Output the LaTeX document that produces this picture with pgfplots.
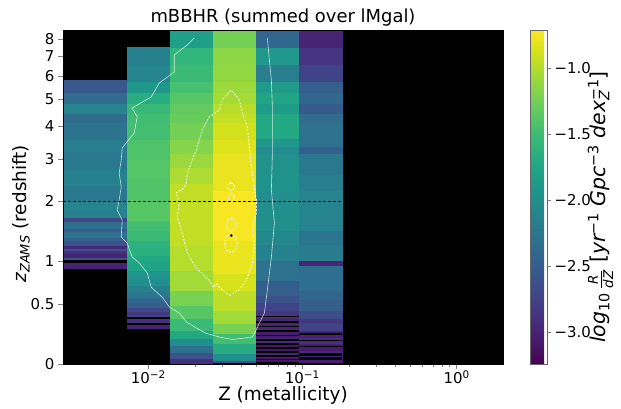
\documentclass[border=0pt]{standalone}
\usepackage{fontspec}
\setmainfont{DejaVu Sans}
\usepackage{pgfplots}
\pgfplotsset{compat=1.18}
\usepgfplotslibrary{colormaps}
\pgfplotsset{blk/.style={fill=black, draw=none}}
\begin{document}
\begin{tikzpicture}
\useasboundingbox (-63bp,-45bp) rectangle (558bp,364bp);
\begin{axis}[
  at={(0,0)}, anchor=south west,
  scale only axis, width=440bp, height=334bp,
  xmode=log, xmin=0.0028, xmax=2.0,
  ymin=0, ymax=8.54,
  y coord trafo/.code={\pgfmathparse{ln(1+#1)}},
  y coord inv trafo/.code={\pgfmathparse{exp(#1)-1}},
  enlargelimits=false,
  axis background/.style={fill=black},
  axis on top,
  xtick={0.01,0.1,1},
  xticklabels={10\textsuperscript{−2},10\textsuperscript{−1},10\textsuperscript{0}},
  ytick={0,0.5,1,2,3,4,5,6,7,8},
  yticklabels={0,0.5,1,2,3,4,5,6,7,8},
  tick pos=left, tick align=outside,
  major tick length=5bp, minor tick length=3bp,
  tick label style={font=\fontsize{15}{18}\selectfont},
  xticklabel style={yshift=2bp},
  label style={font=\fontsize{18.5}{22}\selectfont},
  xlabel style={yshift=4bp},
  ylabel style={at={(axis description cs:-0.0955,0.45)}, anchor=center},
  title={mBBHR (summed over lMgal)},
  every axis title/.style={at={(axis description cs:0.5,1)}, anchor=south, font=\fontsize{18}{22}\selectfont},
  xlabel={Z (metallicity)},
  ylabel={{\itshape z}\textsubscript{\itshape ZAMS} (redshift)},
  colormap name=viridis,
  point meta min=-3.24, point meta max=-0.71,
  colorbar,
  colorbar style={
    at={(1.0614,1)}, anchor=north west,
    scale only axis, width=17bp, height=334bp,
    ytick={-3,-2.5,-2,-1.5,-1},
    yticklabels={−3.0,−2.5,−2.0,−1.5,−1.0},
    yticklabel pos=right, ytick pos=right,
    tick align=outside, major tick length=4bp,
    yticklabel style={font=\fontsize{15}{18}\selectfont},
    axis line style={black!60},
    ylabel={{\itshape log}\textsubscript{10}\,$\frac{\mbox{\fontsize{13.5}{13.5}\selectfont\itshape R}}{\mbox{\fontsize{13.5}{13.5}\selectfont\itshape dZ}}$ [{\itshape yr}\textsuperscript{−1} {\itshape Gpc}\textsuperscript{−3} {\itshape dex}\rlap{\textsubscript{\itshape Z}}\textsuperscript{−1}]},
    ylabel style={font=\fontsize{20.5}{24}\selectfont, at={(axis description cs:4.15,0.47)}, anchor=center, rotate=0},
  },
]
% column 1
\addplot[surf, shader=flat corner, mesh/cols=2, point meta=explicit] table[meta=c, row sep=\\] {
x y c\\
0.0028 0.91 -3.00\\ 0.00731 0.91 -3.00\\
0.0028 0.98 -3.00\\ 0.00731 0.98 -3.00\\
0.0028 1.02 -2.60\\ 0.00731 1.02 -2.60\\
0.0028 1.06 -3.00\\ 0.00731 1.06 -3.00\\
0.0028 1.12 -2.90\\ 0.00731 1.12 -2.90\\
0.0028 1.16 -2.60\\ 0.00731 1.16 -2.60\\
0.0028 1.19 -2.95\\ 0.00731 1.19 -2.95\\
0.0028 1.23 -2.60\\ 0.00731 1.23 -2.60\\
0.0028 1.30 -2.45\\ 0.00731 1.30 -2.45\\
0.0028 1.36 -2.30\\ 0.00731 1.36 -2.30\\
0.0028 1.45 -2.50\\ 0.00731 1.45 -2.50\\
0.0028 1.50 -2.35\\ 0.00731 1.50 -2.35\\
0.0028 1.62 -2.70\\ 0.00731 1.62 -2.70\\
0.0028 1.70 -2.15\\ 0.00731 1.70 -2.15\\
0.0028 1.85 -2.10\\ 0.00731 1.85 -2.10\\
0.0028 2.03 -2.23\\ 0.00731 2.03 -2.23\\
0.0028 2.35 -2.13\\ 0.00731 2.35 -2.13\\
0.0028 2.73 -2.23\\ 0.00731 2.73 -2.23\\
0.0028 3.16 -2.18\\ 0.00731 3.16 -2.18\\
0.0028 3.57 -2.28\\ 0.00731 3.57 -2.28\\
0.0028 4.13 -2.35\\ 0.00731 4.13 -2.35\\
0.0028 4.45 -2.10\\ 0.00731 4.45 -2.10\\
0.0028 4.83 -2.35\\ 0.00731 4.83 -2.35\\
0.0028 5.28 -2.56\\ 0.00731 5.28 -2.56\\
0.0028 5.80 -2.56\\ 0.00731 5.80 -2.56\\
};
% column 2
\addplot[surf, shader=flat corner, mesh/cols=2, point meta=explicit] table[meta=c, row sep=\\] {
x y c\\
0.00731 0.275 -3.00\\ 0.0139 0.275 -3.00\\
0.00731 0.30 -3.00\\ 0.0139 0.30 -3.00\\
0.00731 0.32 -2.90\\ 0.0139 0.32 -2.90\\
0.00731 0.355 -2.90\\ 0.0139 0.355 -2.90\\
0.00731 0.37 -2.75\\ 0.0139 0.37 -2.75\\
0.00731 0.40 -2.85\\ 0.0139 0.40 -2.85\\
0.00731 0.43 -2.70\\ 0.0139 0.43 -2.70\\
0.00731 0.47 -2.48\\ 0.0139 0.47 -2.48\\
0.00731 0.52 -2.40\\ 0.0139 0.52 -2.40\\
0.00731 0.57 -2.23\\ 0.0139 0.57 -2.23\\
0.00731 0.64 -2.15\\ 0.0139 0.64 -2.15\\
0.00731 0.70 -1.98\\ 0.0139 0.70 -1.98\\
0.00731 0.80 -1.92\\ 0.0139 0.80 -1.92\\
0.00731 0.89 -1.77\\ 0.0139 0.89 -1.77\\
0.00731 1.00 -1.72\\ 0.0139 1.00 -1.72\\
0.00731 1.09 -1.65\\ 0.0139 1.09 -1.65\\
0.00731 1.20 -1.62\\ 0.0139 1.20 -1.62\\
0.00731 1.31 -1.52\\ 0.0139 1.31 -1.52\\
0.00731 1.47 -1.48\\ 0.0139 1.47 -1.48\\
0.00731 1.64 -1.37\\ 0.0139 1.64 -1.37\\
0.00731 2.03 -1.40\\ 0.0139 2.03 -1.40\\
0.00731 2.50 -1.38\\ 0.0139 2.50 -1.38\\
0.00731 3.00 -1.41\\ 0.0139 3.00 -1.41\\
0.00731 3.57 -1.47\\ 0.0139 3.57 -1.47\\
0.00731 4.13 -1.49\\ 0.0139 4.13 -1.49\\
0.00731 4.45 -1.54\\ 0.0139 4.45 -1.54\\
0.00731 4.83 -1.67\\ 0.0139 4.83 -1.67\\
0.00731 5.28 -1.90\\ 0.0139 5.28 -1.90\\
0.00731 5.76 -2.10\\ 0.0139 5.76 -2.10\\
0.00731 6.58 -2.15\\ 0.0139 6.58 -2.15\\
0.00731 7.50 -2.15\\ 0.0139 7.50 -2.15\\
};
% column 3
\addplot[surf, shader=flat corner, mesh/cols=2, point meta=explicit] table[meta=c, row sep=\\] {
x y c\\
0.0139 0.00 -2.90\\ 0.02643 0.00 -2.90\\
0.0139 0.04 -2.61\\ 0.02643 0.04 -2.61\\
0.0139 0.085 -2.30\\ 0.02643 0.085 -2.30\\
0.0139 0.137 -1.98\\ 0.02643 0.137 -1.98\\
0.0139 0.19 -1.72\\ 0.02643 0.19 -1.72\\
0.0139 0.26 -1.52\\ 0.02643 0.26 -1.52\\
0.0139 0.364 -1.37\\ 0.02643 0.364 -1.37\\
0.0139 0.49 -1.22\\ 0.02643 0.49 -1.22\\
0.0139 0.65 -1.06\\ 0.02643 0.65 -1.06\\
0.0139 0.89 -0.99\\ 0.02643 0.89 -0.99\\
0.0139 1.23 -0.94\\ 0.02643 1.23 -0.94\\
0.0139 2.39 -1.02\\ 0.02643 2.39 -1.02\\
0.0139 2.78 -1.09\\ 0.02643 2.78 -1.09\\
0.0139 3.16 -1.17\\ 0.02643 3.16 -1.17\\
0.0139 3.57 -1.24\\ 0.02643 3.57 -1.24\\
0.0139 4.13 -1.29\\ 0.02643 4.13 -1.29\\
0.0139 4.45 -1.32\\ 0.02643 4.45 -1.32\\
0.0139 4.83 -1.37\\ 0.02643 4.83 -1.37\\
0.0139 5.28 -1.45\\ 0.02643 5.28 -1.45\\
0.0139 5.76 -1.52\\ 0.02643 5.76 -1.52\\
0.0139 6.58 -1.57\\ 0.02643 6.58 -1.57\\
0.0139 7.50 -1.82\\ 0.02643 7.50 -1.82\\
0.0139 8.54 -1.82\\ 0.02643 8.54 -1.82\\
};
% column 4
\addplot[surf, shader=flat corner, mesh/cols=2, point meta=explicit] table[meta=c, row sep=\\] {
x y c\\
0.02643 0.00 -2.60\\ 0.05027 0.00 -2.60\\
0.02643 0.0088 -2.60\\ 0.05027 0.0088 -2.60\\
0.02643 0.027 -1.98\\ 0.05027 0.027 -1.98\\
0.02643 0.077 -1.68\\ 0.05027 0.077 -1.68\\
0.02643 0.152 -1.47\\ 0.05027 0.152 -1.47\\
0.02643 0.23 -1.22\\ 0.05027 0.23 -1.22\\
0.02643 0.32 -1.06\\ 0.05027 0.32 -1.06\\
0.02643 0.44 -0.96\\ 0.05027 0.44 -0.96\\
0.02643 0.65 -0.86\\ 0.05027 0.65 -0.86\\
0.02643 0.85 -0.78\\ 0.05027 0.85 -0.78\\
0.02643 1.31 -0.73\\ 0.05027 1.31 -0.73\\
0.02643 2.24 -0.79\\ 0.05027 2.24 -0.79\\
0.02643 3.16 -0.83\\ 0.05027 3.16 -0.83\\
0.02643 3.57 -0.88\\ 0.05027 3.57 -0.88\\
0.02643 4.13 -0.93\\ 0.05027 4.13 -0.93\\
0.02643 4.45 -0.98\\ 0.05027 4.45 -0.98\\
0.02643 4.83 -1.05\\ 0.05027 4.83 -1.05\\
0.02643 5.28 -1.08\\ 0.05027 5.28 -1.08\\
0.02643 5.76 -1.12\\ 0.05027 5.76 -1.12\\
0.02643 6.58 -1.14\\ 0.05027 6.58 -1.14\\
0.02643 7.50 -1.24\\ 0.05027 7.50 -1.24\\
0.02643 8.54 -1.24\\ 0.05027 8.54 -1.24\\
};
% column 5
\addplot[surf, shader=flat corner, mesh/cols=2, point meta=explicit] table[meta=c, row sep=\\] {
x y c\\
0.05027 0.00 -3.10\\ 0.0956 0.00 -3.10\\
0.05027 0.05 -3.00\\ 0.0956 0.05 -3.00\\
0.05027 0.10 -3.10\\ 0.0956 0.10 -3.10\\
0.05027 0.15 -2.95\\ 0.0956 0.15 -2.95\\
0.05027 0.20 -3.05\\ 0.0956 0.20 -3.05\\
0.05027 0.25 -2.95\\ 0.0956 0.25 -2.95\\
0.05027 0.30 -2.99\\ 0.0956 0.30 -2.99\\
0.05027 0.37 -2.85\\ 0.0956 0.37 -2.85\\
0.05027 0.44 -2.73\\ 0.0956 0.44 -2.73\\
0.05027 0.52 -2.60\\ 0.0956 0.52 -2.60\\
0.05027 0.59 -2.48\\ 0.0956 0.59 -2.48\\
0.05027 0.76 -2.30\\ 0.0956 0.76 -2.30\\
0.05027 1.02 -2.13\\ 0.0956 1.02 -2.13\\
0.05027 1.25 -2.05\\ 0.0956 1.25 -2.05\\
0.05027 1.47 -1.98\\ 0.0956 1.47 -1.98\\
0.05027 1.80 -2.00\\ 0.0956 1.80 -2.00\\
0.05027 2.24 -1.95\\ 0.0956 2.24 -1.95\\
0.05027 2.60 -1.97\\ 0.0956 2.60 -1.97\\
0.05027 3.16 -2.03\\ 0.0956 3.16 -2.03\\
0.05027 3.36 -1.90\\ 0.0956 3.36 -1.90\\
0.05027 3.60 -1.72\\ 0.0956 3.60 -1.72\\
0.05027 4.45 -1.85\\ 0.0956 4.45 -1.85\\
0.05027 4.83 -1.75\\ 0.0956 4.83 -1.75\\
0.05027 5.28 -1.85\\ 0.0956 5.28 -1.85\\
0.05027 5.76 -2.18\\ 0.0956 5.76 -2.18\\
0.05027 6.58 -1.90\\ 0.0956 6.58 -1.90\\
0.05027 7.50 -2.41\\ 0.0956 7.50 -2.41\\
0.05027 8.54 -2.41\\ 0.0956 8.54 -2.41\\
};
% column 6
\addplot[surf, shader=flat corner, mesh/cols=2, point meta=explicit] table[meta=c, row sep=\\] {
x y c\\
0.0956 0.00 -3.05\\ 0.1818 0.00 -3.05\\
0.0956 0.05 -2.95\\ 0.1818 0.05 -2.95\\
0.0956 0.10 -3.05\\ 0.1818 0.10 -3.05\\
0.0956 0.15 -2.90\\ 0.1818 0.15 -2.90\\
0.0956 0.20 -3.00\\ 0.1818 0.20 -3.00\\
0.0956 0.26 -2.73\\ 0.1818 0.26 -2.73\\
0.0956 0.33 -2.85\\ 0.1818 0.33 -2.85\\
0.0956 0.36 -2.65\\ 0.1818 0.36 -2.65\\
0.0956 0.44 -2.48\\ 0.1818 0.44 -2.48\\
0.0956 0.55 -2.42\\ 0.1818 0.55 -2.42\\
0.0956 0.65 -2.33\\ 0.1818 0.65 -2.33\\
0.0956 0.95 -2.99\\ 0.1818 0.95 -2.99\\
0.0956 1.02 -2.20\\ 0.1818 1.02 -2.20\\
0.0956 1.25 -2.25\\ 0.1818 1.25 -2.25\\
0.0956 1.47 -2.10\\ 0.1818 1.47 -2.10\\
0.0956 2.24 -2.18\\ 0.1818 2.24 -2.18\\
0.0956 2.61 -2.23\\ 0.1818 2.61 -2.23\\
0.0956 3.16 -2.48\\ 0.1818 3.16 -2.48\\
0.0956 3.36 -2.30\\ 0.1818 3.36 -2.30\\
0.0956 4.13 -2.35\\ 0.1818 4.13 -2.35\\
0.0956 4.45 -2.53\\ 0.1818 4.45 -2.53\\
0.0956 4.83 -2.41\\ 0.1818 4.83 -2.41\\
0.0956 5.28 -2.48\\ 0.1818 5.28 -2.48\\
0.0956 5.76 -2.73\\ 0.1818 5.76 -2.73\\
0.0956 6.58 -2.86\\ 0.1818 6.58 -2.86\\
0.0956 7.50 -2.99\\ 0.1818 7.50 -2.99\\
0.0956 8.54 -2.99\\ 0.1818 8.54 -2.99\\
};
% empty (black) cells
\addplot[blk] coordinates {(0.0028,0.98) (0.00731,0.98) (0.00731,1.02) (0.0028,1.02)};
\addplot[blk] coordinates {(0.00731,0.30) (0.0139,0.30) (0.0139,0.32) (0.00731,0.32)};
\addplot[blk] coordinates {(0.00731,0.355) (0.0139,0.355) (0.0139,0.37) (0.00731,0.37)};
\addplot[blk] coordinates {(0.02643,0) (0.05027,0) (0.05027,0.0088) (0.02643,0.0088)};
\addplot[blk] coordinates {(0.05027,0) (0.0956,0) (0.0956,0.012) (0.05027,0.012)};
\addplot[blk] coordinates {(0.05027,0.025) (0.0956,0.025) (0.0956,0.035) (0.05027,0.035)};
\addplot[blk] coordinates {(0.05027,0.05) (0.0956,0.05) (0.0956,0.065) (0.05027,0.065)};
\addplot[blk] coordinates {(0.05027,0.08) (0.0956,0.08) (0.0956,0.095) (0.05027,0.095)};
\addplot[blk] coordinates {(0.05027,0.11) (0.0956,0.11) (0.0956,0.125) (0.05027,0.125)};
\addplot[blk] coordinates {(0.05027,0.14) (0.0956,0.14) (0.0956,0.155) (0.05027,0.155)};
\addplot[blk] coordinates {(0.05027,0.17) (0.0956,0.17) (0.0956,0.185) (0.05027,0.185)};
\addplot[blk] coordinates {(0.05027,0.205) (0.0956,0.205) (0.0956,0.22) (0.05027,0.22)};
\addplot[blk] coordinates {(0.05027,0.24) (0.0956,0.24) (0.0956,0.26) (0.05027,0.26)};
\addplot[blk] coordinates {(0.05027,0.28) (0.0956,0.28) (0.0956,0.295) (0.05027,0.295)};
\addplot[blk] coordinates {(0.05027,0.32) (0.0956,0.32) (0.0956,0.335) (0.05027,0.335)};
\addplot[blk] coordinates {(0.05027,0.37) (0.0956,0.37) (0.0956,0.385) (0.05027,0.385)};
\addplot[blk] coordinates {(0.0956,0) (0.1818,0) (0.1818,0.01) (0.0956,0.01)};
\addplot[blk] coordinates {(0.0956,0.03) (0.1818,0.03) (0.1818,0.045) (0.0956,0.045)};
\addplot[blk] coordinates {(0.0956,0.055) (0.1818,0.055) (0.1818,0.08) (0.0956,0.08)};
\addplot[blk] coordinates {(0.0956,0.12) (0.1818,0.12) (0.1818,0.13) (0.0956,0.13)};
\addplot[blk] coordinates {(0.0956,0.165) (0.1818,0.165) (0.1818,0.175) (0.0956,0.175)};
\addplot[blk] coordinates {(0.0956,0.22) (0.1818,0.22) (0.1818,0.23) (0.0956,0.23)};
% outer contour
\addplot[white, opacity=0.75, line width=0.6bp] coordinates {
(0.01990,8.04) (0.01791,7.62) (0.01475,7.06) (0.01475,6.18) (0.01179,5.67)
(0.01046,5.07) (0.00848,4.75) (0.00787,4.63) (0.00848,4.30) (0.00811,3.76)
(0.00720,3.45) (0.00678,3.30) (0.00668,2.97) (0.00648,2.63) (0.00668,2.30)
(0.00648,2.03) (0.00629,1.83) (0.00678,1.64) (0.00668,1.36) (0.00731,1.26)
(0.00787,1.06) (0.00874,0.98) (0.00985,0.85) (0.01046,0.68) (0.01233,0.57)
(0.01369,0.47) (0.01590,0.41) (0.01765,0.33) (0.02050,0.275) (0.02380,0.23)
(0.02891,0.20) (0.03512,0.18) (0.04736,0.20) (0.05027,0.26) (0.05258,0.32)
(0.05665,0.41) (0.05926,0.65) (0.06292,1.06) (0.06581,1.59) (0.06292,2.24)
(0.06387,3.16) (0.06387,4.67) (0.06292,5.80) (0.06106,6.79) (0.05926,8.04)
};
% inner dashed contour
\addplot[white, line width=0.8bp, dash pattern=on 2bp off 1.5bp] coordinates {
(0.02643,0.68) (0.02489,0.76) (0.02050,0.91) (0.01791,1.12) (0.01663,1.42)
(0.01543,1.70) (0.01590,1.97) (0.01520,2.17) (0.01663,2.25) (0.01765,2.39)
(0.01791,2.63) (0.01931,2.97) (0.02050,3.24) (0.02242,3.86) (0.02489,4.30)
(0.02891,4.56) (0.03023,4.95) (0.03459,5.36) (0.03899,4.95) (0.04077,4.45)
(0.04395,3.95) (0.04528,3.33) (0.04665,2.78) (0.04878,2.30) (0.05027,2.03)
(0.05027,1.77) (0.04736,1.47) (0.04878,1.20) (0.04736,0.98) (0.04329,0.76)
(0.03899,0.65) (0.03357,0.59) (0.03023,0.65) (0.02764,0.72) (0.02643,0.68)
};
\addplot[white, line width=0.8bp, dash pattern=on 2bp off 1.5bp] coordinates {
(0.0343,2.40) (0.0358,2.36) (0.0362,2.31) (0.0358,2.26) (0.0343,2.23) (0.0328,2.26) (0.0326,2.31) (0.0328,2.36) (0.0343,2.40)};
\addplot[white, line width=0.8bp, dash pattern=on 2bp off 1.5bp] coordinates {
(0.0346,2.17) (0.0358,2.13) (0.0362,2.08) (0.0358,2.03) (0.0346,1.99) (0.0334,2.03) (0.0331,2.08) (0.0334,2.13) (0.0346,2.17)};
\addplot[white, line width=0.8bp, dash pattern=on 2bp off 1.5bp] coordinates {
(0.0346,1.68) (0.0364,1.64) (0.0373,1.56) (0.0364,1.48) (0.0346,1.44) (0.0328,1.48) (0.0321,1.56) (0.0328,1.64) (0.0346,1.68)};
\addplot[white, line width=0.8bp, dash pattern=on 2bp off 1.5bp] coordinates {
(0.0343,1.41) (0.0366,1.36) (0.0378,1.26) (0.0366,1.16) (0.0343,1.12) (0.0320,1.16) (0.0312,1.26) (0.0320,1.36) (0.0343,1.41)};
\addplot[only marks, mark=*, mark size=1.2bp, black] coordinates {(0.0346,1.38)};
% z = 2 line
\addplot[black, line width=0.8bp, dash pattern=on 3bp off 2bp] coordinates {(0.0028,2) (2.0,2)};
\end{axis}
\end{tikzpicture}
\end{document}
